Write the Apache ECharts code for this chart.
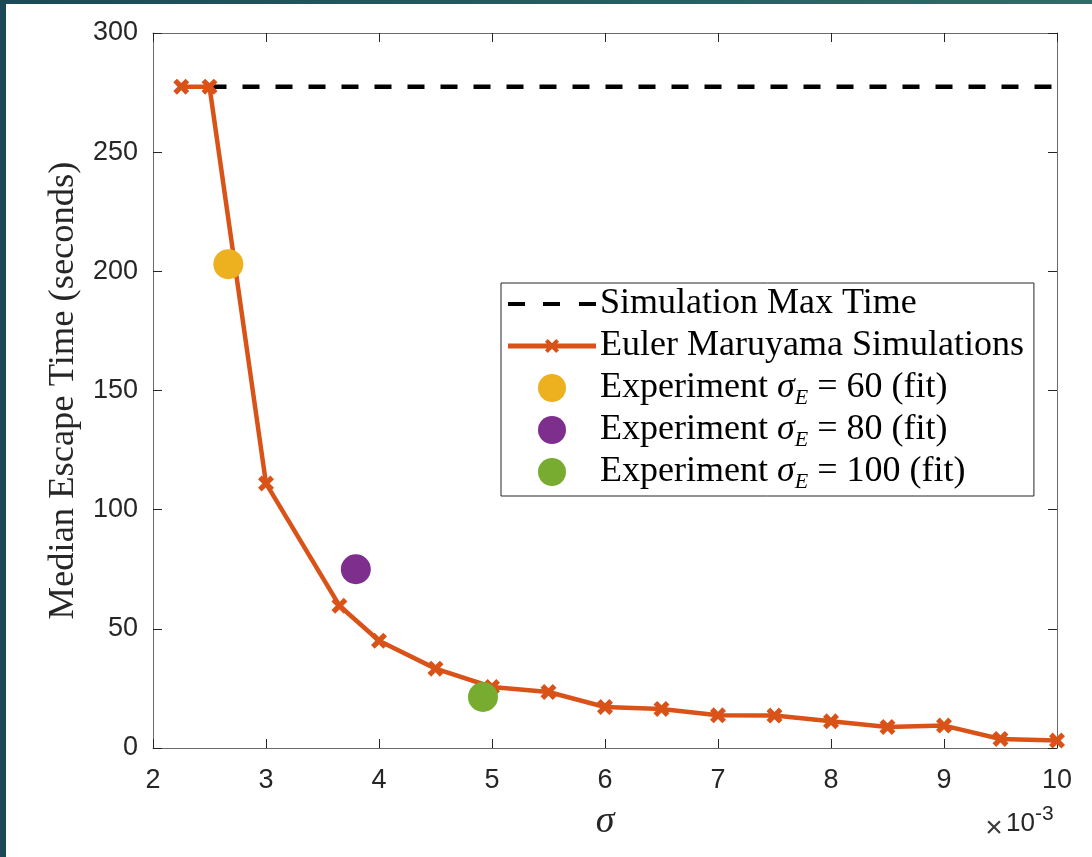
<!DOCTYPE html>
<html>
<head>
<meta charset="utf-8">
<script src="https://cdn.jsdelivr.net/npm/echarts@6/dist/echarts.min.js"></script>
<style>
  html, body { margin: 0; padding: 0; background: #ffffff; }
  #chart { width: 1092px; height: 857px; }
</style>
</head>
<body>
<div id="chart"></div>
<script>
// Euler-Maruyama simulations: noise level sigma (x 1e-3) vs median escape time (s)
const sigma = [2.25, 2.5, 3, 3.65, 4, 4.5, 5, 5.5, 6, 6.5, 7, 7.5, 8, 8.5, 9, 9.5, 10];
const escapeTime = [277.5, 277.5, 111, 59.7, 45, 33.3, 25.6, 23.5, 17.2, 16.4, 13.7, 13.6, 11.2, 8.8, 9.4, 3.8, 3.1];

// Simulation cut-off time, drawn as a horizontal dashed line
const maxTimeSigma = [2.5, 10];
const maxTime = 277.5;

// Experimental fits
const experimentSigmaE = ['60', '80', '100'];
const experimentSigma = [2.667, 3.795, 4.92];
const experimentTime = [203, 75, 21.4];
const experimentColors = ['#EDB120', '#7E2F8E', '#77AC30'];

// Axis ticks
const xTicks = [2, 3, 4, 5, 6, 7, 8, 9, 10];
const yTicks = [0, 50, 100, 150, 200, 250, 300];

const SERIF = '"Liberation Serif", "Times New Roman", serif';
const SANS = '"Liberation Sans", Arial, Helvetica, sans-serif';
const AXIS_COLOR = '#262626';

const crossPath = 'path://M2.3,0 L5,2.7 L7.7,0 L10,2.3 L7.3,5 L10,7.7 L7.7,10 L5,7.3 L2.3,10 L0,7.7 L2.7,5 L0,2.3 Z';
const dashedIcon = 'path://M0,0 h17 v4 h-17 Z M35,0 h17 v4 h-17 Z M71,0 h17 v4 h-17 Z';
const lineCrossIcon = 'path://M0,4.5 h88 v5 h-88 Z M39.8,0 L44,4.2 L48.2,0 L51,2.8 L46.8,7 L51,11.2 L48.2,14 L44,9.8 L39.8,14 L37,11.2 L41.2,7 L37,2.8 Z';

const maxName = 'Simulation Max Time';
const eulerName = 'Euler Maruyama Simulations';
const expNames = experimentSigmaE.map(v => 'Experiment σE = ' + v + ' (fit)');

const chart = echarts.init(document.getElementById('chart'), null, { renderer: 'canvas' });

const baseAxis = {
  type: 'value',
  splitLine: { show: false },
  axisLine: { show: true, onZero: false, lineStyle: { color: '#6b6b6b', width: 1 } },
  axisTick: { show: true, inside: true, length: 9, lineStyle: { color: AXIS_COLOR, width: 1 } }
};

const xRange = { min: xTicks[0], max: xTicks[xTicks.length - 1], interval: xTicks[1] - xTicks[0] };
const yRange = { min: yTicks[0], max: yTicks[yTicks.length - 1], interval: yTicks[1] - yTicks[0] };

const series = [
  {
    name: maxName,
    type: 'line',
    data: maxTimeSigma.map(x => [x, maxTime]),
    symbol: 'none',
    clip: false,
    color: '#000000',
    lineStyle: { color: '#000000', width: 4.5, type: [17, 16] },
    z: 3
  },
  {
    name: eulerName,
    type: 'line',
    data: sigma.map((x, i) => [x, escapeTime[i]]),
    symbol: crossPath,
    symbolSize: 16,
    showAllSymbol: true,
    clip: false,
    color: '#D95319',
    itemStyle: { color: '#D95319' },
    lineStyle: { color: '#D95319', width: 4.5 },
    z: 4
  }
];
experimentSigma.forEach((x, i) => {
  series.push({
    name: expNames[i],
    type: 'scatter',
    data: [[x, experimentTime[i]]],
    symbol: 'circle',
    symbolSize: 30,
    color: experimentColors[i],
    itemStyle: { color: experimentColors[i], opacity: 1 },
    z: 5
  });
});

const legendText = name => {
  const m = name.match(/^Experiment σE (.*)$/);
  if (!m) return name;
  return 'Experiment {it|σ}{sub|E} ' + m[1];
};

const option = {
  backgroundColor: '#ffffff',
  animation: false,
  grid: { left: 153, right: 35, top: 33, bottom: 109, containLabel: false },
  xAxis: [
    Object.assign({}, baseAxis, xRange, {
      position: 'bottom',
      name: 'σ',
      nameLocation: 'middle',
      nameGap: 55,
      nameTextStyle: { fontFamily: SERIF, fontStyle: 'italic', fontSize: 38, color: AXIS_COLOR },
      axisLabel: { show: true, margin: 19, fontFamily: SANS, fontSize: 27, color: AXIS_COLOR }
    }),
    Object.assign({}, baseAxis, xRange, {
      position: 'top',
      axisLabel: { show: false }
    })
  ],
  yAxis: [
    Object.assign({}, baseAxis, yRange, {
      position: 'left',
      name: 'Median Escape Time (seconds)',
      nameLocation: 'middle',
      nameRotate: 90,
      nameGap: 71,
      nameTextStyle: { fontFamily: SERIF, fontSize: 36.5, color: AXIS_COLOR },
      axisLabel: { show: true, margin: 15, fontFamily: SANS, fontSize: 27, color: AXIS_COLOR }
    }),
    Object.assign({}, baseAxis, yRange, {
      position: 'right',
      axisLabel: { show: false }
    })
  ],
  legend: {
    show: true,
    orient: 'vertical',
    left: 501,
    top: 283,
    padding: [0, 10, 3, 7],
    itemGap: 0,
    itemWidth: 88,
    itemHeight: 28,
    backgroundColor: '#ffffff',
    borderColor: AXIS_COLOR,
    borderWidth: 1,
    borderRadius: 0,
    selectedMode: false,
    symbolKeepAspect: true,
    formatter: legendText,
    textStyle: {
      fontFamily: SERIF,
      fontSize: 36,
      color: '#000000',
      lineHeight: 42,
      padding: [0, 0, 0, -1],
      rich: {
        it: { fontFamily: SERIF, fontStyle: 'italic', fontSize: 36, lineHeight: 42, color: '#000000' },
        sub: { fontFamily: SERIF, fontStyle: 'italic', fontSize: 22, lineHeight: 21, verticalAlign: 'bottom', color: '#000000' }
      }
    },
    data: [
      { name: maxName, icon: dashedIcon, itemStyle: { color: '#000000', borderWidth: 0 } },
      { name: eulerName, icon: lineCrossIcon, itemStyle: { color: '#D95319', borderWidth: 0 } }
    ].concat(expNames.map((n, i) => ({ name: n, icon: 'circle', itemStyle: { color: experimentColors[i], borderWidth: 0 } })))
  },
  graphic: [
    {
      type: 'rect', silent: true, z: 100,
      shape: { x: 0, y: 0, width: 6, height: 857 },
      style: { fill: '#1b4957' }
    },
    {
      type: 'rect', silent: true, z: 100,
      shape: { x: 0, y: 0, width: 1092, height: 4 },
      style: {
        fill: { type: 'linear', x: 0, y: 0, x2: 1, y2: 0, global: false,
          colorStops: [{ offset: 0, color: '#1c4957' }, { offset: 1, color: '#2f6d68' }] }
      }
    },
    {
      type: 'text', silent: true, z: 50,
      x: 994, y: 829,
      style: { text: '×', align: 'center', verticalAlign: 'middle', fontFamily: SANS, fontSize: 30, fill: '#3a3a3a' }
    },
    {
      type: 'text', silent: true, z: 50,
      x: 1035, y: 824,
      style: { text: '10', align: 'right', verticalAlign: 'middle', fontFamily: SANS, fontSize: 26, fill: AXIS_COLOR }
    },
    {
      type: 'text', silent: true, z: 50,
      x: 1035, y: 814,
      style: { text: '-3', align: 'left', verticalAlign: 'middle', fontFamily: SANS, fontSize: 21, fill: AXIS_COLOR }
    }
  ],
  series: series
};

chart.setOption(option);
</script>
</body>
</html>
